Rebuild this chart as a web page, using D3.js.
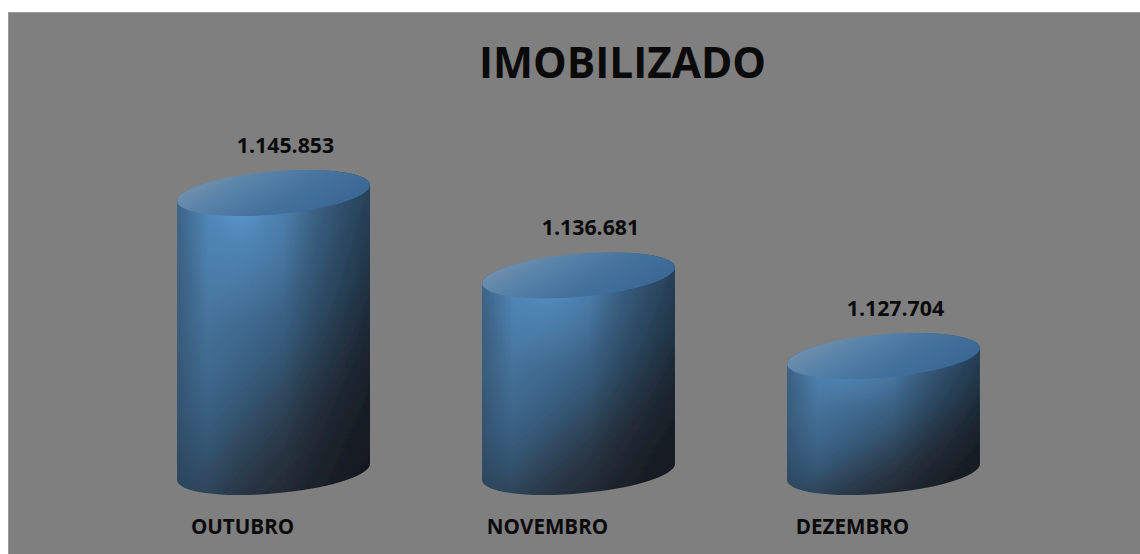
<!DOCTYPE html>
<html>
<head>
<meta charset="utf-8">
<script src="https://cdn.jsdelivr.net/npm/d3@7"></script>
<style>
  html, body { margin: 0; padding: 0; background: #fff; overflow: hidden; }
  text { font-family: "Open Sans", Lato, sans-serif; font-weight: 700; fill: #0a0a0a; }
</style>
</head>
<body>
<div id="chart"></div>
<script>
const months = ["OUTUBRO", "NOVEMBRO", "DEZEMBRO"];
const values = [1145853, 1136681, 1127704];
const valueLabels = ["1.145.853", "1.136.681", "1.127.704"];
const chartTitle = "IMOBILIZADO";

const width = 1140, height = 554;
const baseY = 472;

const svg = d3.select("#chart")
    .append("svg")
    .attr("width", width)
    .attr("height", height)
    .style("display", "block");

// grey plate, the picture leaves a white strip top and left
svg.append("rect")
    .attr("x", 8.5).attr("y", 12.5)
    .attr("width", width).attr("height", height)
    .attr("fill", "#7f7f7f")
    .attr("stroke", "#9a9a9a");

const x = d3.scaleBand()
    .domain(months)
    .range([177, 980])
    .paddingInner(0.367)
    .paddingOuter(0);

// the axis is not drawn from zero, the 3D columns start around 1.114.800
const y = d3.scaleLinear()
    .domain([1114800, 1145853])
    .range([baseY, 193]);

const defs = svg.append("defs");

const blur = defs.append("filter").attr("id", "soft")
    .attr("x", "-5%").attr("y", "-5%").attr("width", "110%").attr("height", "110%");
blur.append("feGaussianBlur").attr("stdDeviation", 0.7);

function addStops(grad, stops) {
    grad.selectAll("stop")
        .data(stops)
        .join("stop")
        .attr("offset", d => d[0])
        .attr("stop-color", d => d[1])
        .attr("stop-opacity", d => d[2] === undefined ? 1 : d[2]);
}

addStops(defs.append("linearGradient")
    .attr("id", "bodyGrad")
    .attr("x1", 0.2).attr("y1", 0).attr("x2", 0.9).attr("y2", 1),
    [[0, "#4c7fae"], [0.25, "#47769f"], [0.42, "#3e678c"], [0.55, "#345673"],
        [0.65, "#2e4458"], [0.75, "#283341"], [0.87, "#212730"], [1, "#1a1d24"]]);

// bright spot just under the rim
addStops(defs.append("radialGradient")
    .attr("id", "glowGrad")
    .attr("cx", 0.33).attr("cy", 0.05).attr("r", 0.42),
    [[0, "#62a6e2", 0.9], [0.45, "#5b9bd5", 0.32], [1, "#5b9bd5", 0]]);

addStops(defs.append("linearGradient").attr("id", "edgeGrad"),
    [[0, "#1a2530", 0.34], [0.16, "#1a2530", 0], [0.55, "#0b1118", 0], [1, "#0b1118", 0.45]]);

addStops(defs.append("linearGradient")
    .attr("id", "topGrad")
    .attr("x1", 0).attr("y1", 0).attr("x2", 1).attr("y2", 0.5),
    [[0, "#7e97ad"], [0.35, "#5a84aa"], [0.7, "#44729d"], [1, "#3b6996"]]);

// tilted ellipse of the 3D column
const rx = 96.8, ry = 21.5, tilt = -5;
const rad = tilt * Math.PI / 180;
const ex = Math.sqrt(rx * rx * Math.cos(rad) ** 2 + ry * ry * Math.sin(rad) ** 2);
const dy = -(rx * rx - ry * ry) * Math.sin(rad) * Math.cos(rad) / ex;

function bodyPath(cx, top) {
    return `M${cx - ex},${top + dy}`
        + `A${rx},${ry} ${tilt} 0 1 ${cx + ex},${top - dy}`
        + `L${cx + ex},${baseY - dy}`
        + `A${rx},${ry} ${tilt} 0 1 ${cx - ex},${baseY + dy}Z`;
}

const col = svg.selectAll("g.col")
    .data(months.map((m, i) => ({month: m, value: values[i], label: valueLabels[i]})))
    .join("g")
    .attr("class", "col");

const cx = d => x(d.month) + x.bandwidth() / 2;

const shape = col.append("g").attr("filter", "url(#soft)");

["url(#bodyGrad)", "url(#glowGrad)", "url(#edgeGrad)"].forEach(fill => {
    shape.append("path")
        .attr("d", d => bodyPath(cx(d), y(d.value)))
        .attr("fill", fill);
});

shape.append("ellipse")
    .attr("rx", rx)
    .attr("ry", ry)
    .attr("transform", d => `translate(${cx(d)},${y(d.value)}) rotate(${tilt})`)
    .attr("fill", "url(#topGrad)");

col.append("text")
    .attr("x", d => cx(d) + 12)
    .attr("y", d => y(d.value) - 40)
    .attr("text-anchor", "middle")
    .attr("font-size", 21.3)
    .text(d => d.label);

// category labels sit a bit left of the columns in the picture
const xAxis = d3.axisBottom(x).tickSize(0).tickPadding(0);
const axisG = svg.append("g")
    .attr("transform", "translate(-31,519)")
    .call(xAxis);
axisG.select(".domain").remove();
axisG.selectAll("text")
    .attr("font-size", 20.6)
    .style("font-family", "'Open Sans', Lato, sans-serif")
    .style("font-weight", 700)
    .style("fill", "#0a0a0a");

svg.append("text")
    .attr("x", 622.5)
    .attr("y", 78)
    .attr("text-anchor", "middle")
    .attr("font-size", 42.4)
    .text(chartTitle);
</script>
</body>
</html>
